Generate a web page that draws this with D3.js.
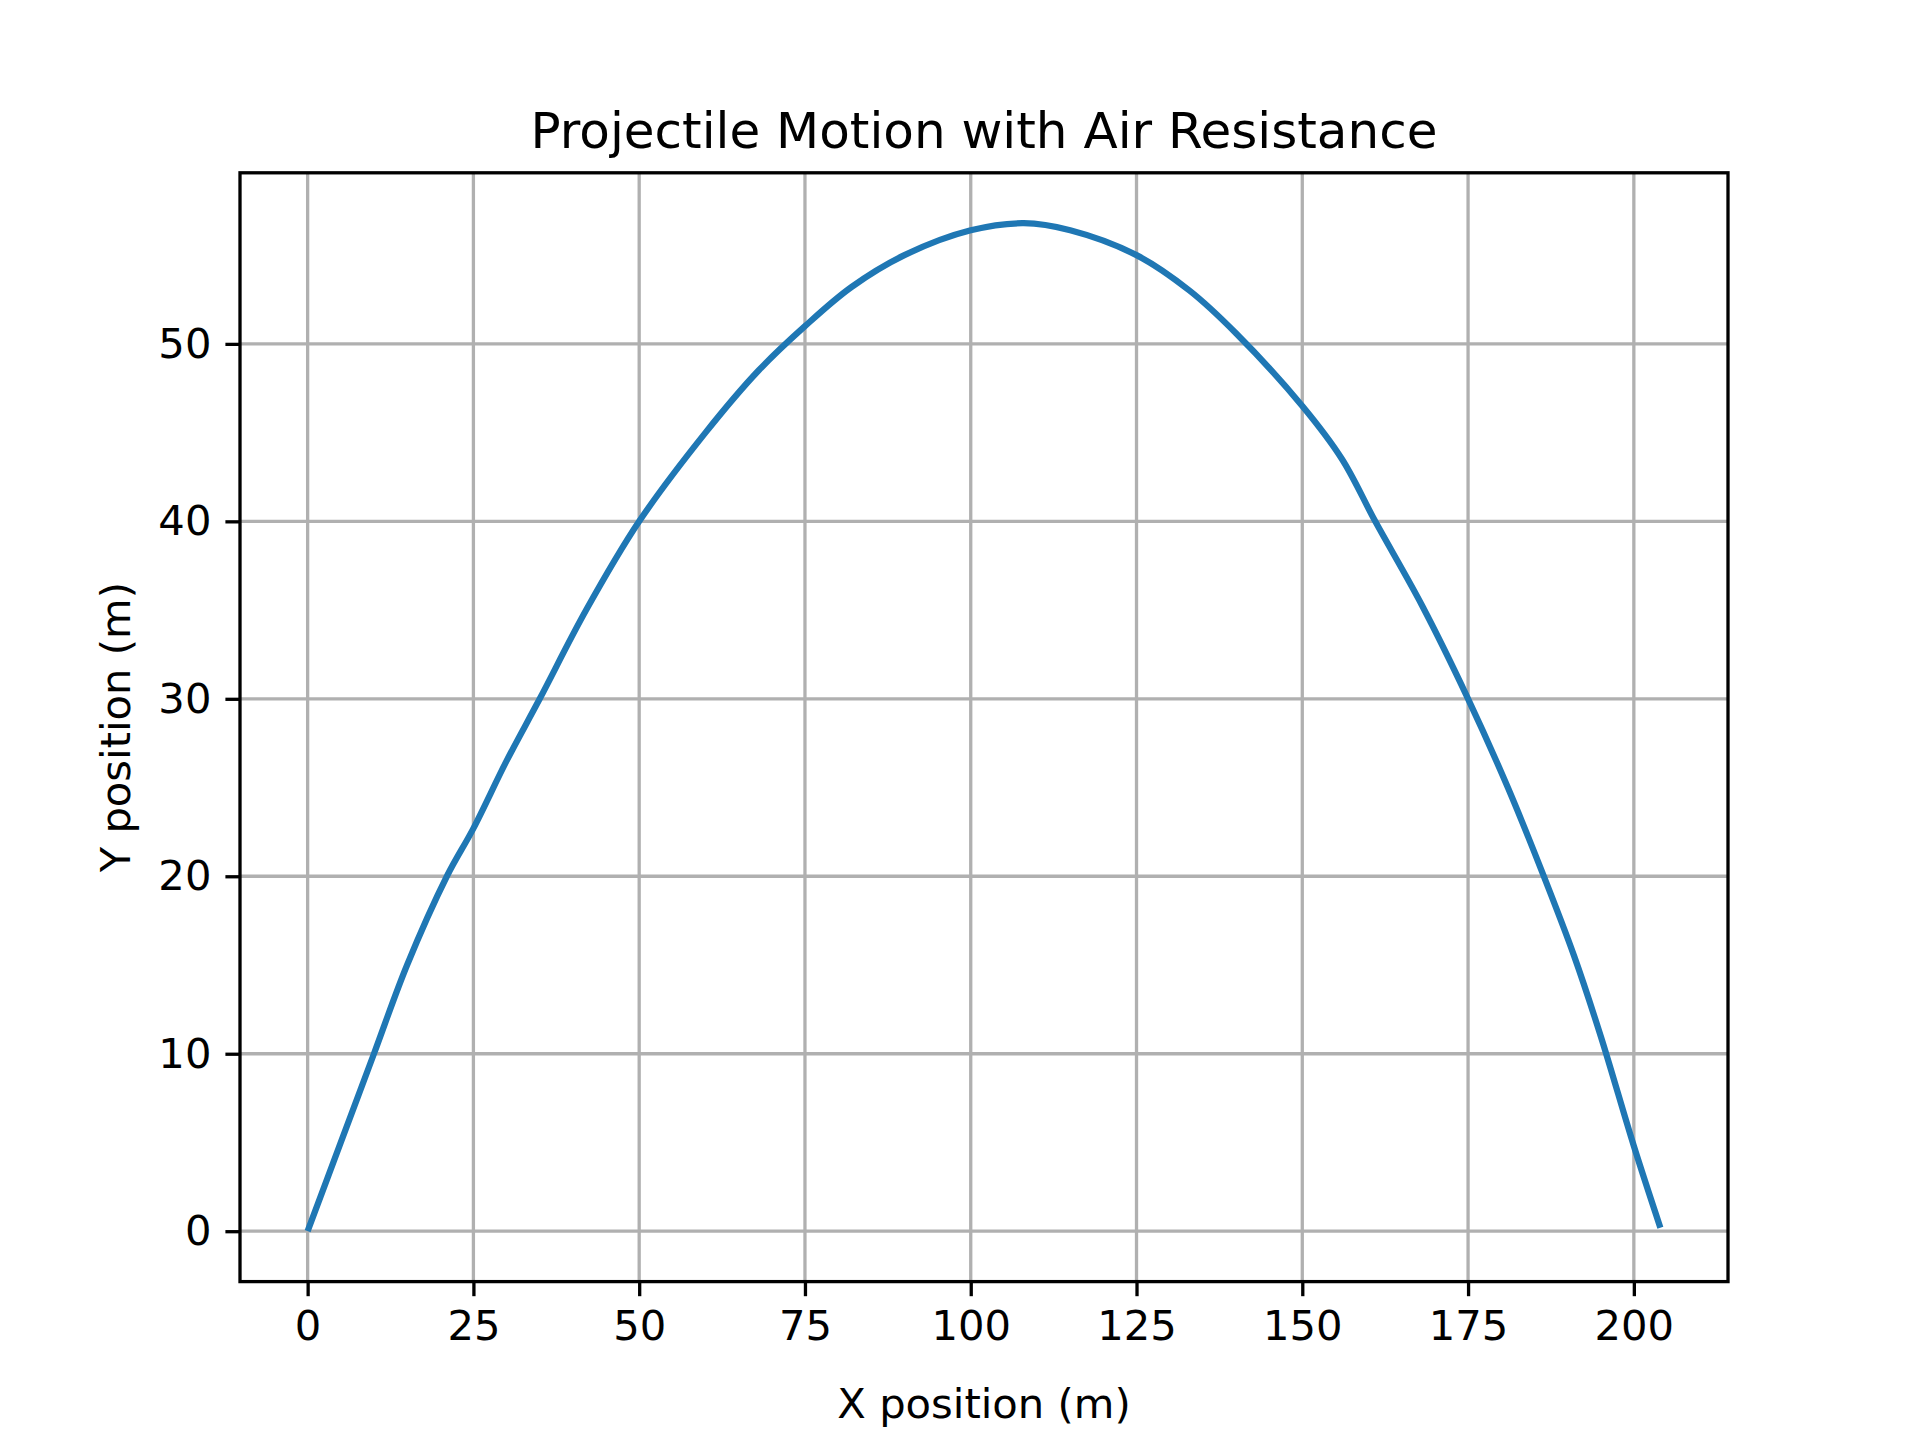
<!DOCTYPE html>
<html>
<head>
<meta charset="utf-8">
<script src="https://cdnjs.cloudflare.com/ajax/libs/d3/7.8.5/d3.min.js"></script>
<style>
body { margin: 0; background: #fff; }
text { font-family: "DejaVu Sans", sans-serif; fill: #000; }
</style>
</head>
<body>
<svg id="chart" width="1920" height="1440"></svg>
<script>
// trajectory
var xPos = [0, 5, 10, 15, 21, 25, 30, 35, 42, 50, 60, 68, 75, 82, 90, 100, 108, 115, 125, 133, 140, 150, 156, 161, 168, 175, 181, 186, 191, 195, 200, 204];
var yPos = [0, 5, 10, 15, 20, 22.7, 26.5, 30, 35, 40, 45, 48.5, 51, 53.2, 55, 56.4, 56.8, 56.4, 55, 53, 50.6, 46.5, 43.5, 40, 35.3, 30, 25, 20.4, 15.5, 11, 4.8, 0.2];
var xTicks = [0, 25, 50, 75, 100, 125, 150, 175, 200];
var yTicks = [0, 10, 20, 30, 40, 50];

var svg = d3.select("#chart");
var L = 240, R = 1728, T = 172.8, B = 1281.6;
var x = d3.scaleLinear().domain([-10.2, 214.2]).range([L, R]);
var y = d3.scaleLinear().domain([-2.84, 59.64]).range([B, T]);

var g = svg.append("g");
// grid
g.selectAll(".gx").data(xTicks).enter().append("line")
    .attr("x1", function (d) { return x(d); }).attr("x2", function (d) { return x(d); })
    .attr("y1", T).attr("y2", B).attr("stroke", "#b0b0b0").attr("stroke-width", 3.3);
g.selectAll(".gy").data(yTicks).enter().append("line")
    .attr("y1", function (d) { return y(d); }).attr("y2", function (d) { return y(d); })
    .attr("x1", L).attr("x2", R).attr("stroke", "#b0b0b0").attr("stroke-width", 3.3);

// curve
var pts = xPos.map(function (d, i) { return [d, yPos[i]]; });
g.append("path").datum(pts)
    .attr("d", d3.line().x(function (d) { return x(d[0]); }).y(function (d) { return y(d[1]); }).curve(d3.curveCatmullRom))
    .attr("fill", "none").attr("stroke", "#1f77b4").attr("stroke-width", 6.25);

// axes
var xa = svg.append("g").attr("transform", "translate(0," + B + ")")
    .call(d3.axisBottom(x).tickValues(xTicks).tickSize(14.6).tickPadding(14));
var ya = svg.append("g").attr("transform", "translate(" + L + ",0)")
    .call(d3.axisLeft(y).tickValues(yTicks).tickSize(14.6).tickPadding(14));
[xa, ya].forEach(function (a) {
    a.select(".domain").remove();
    a.selectAll("line").attr("stroke", "#000").attr("stroke-width", 3.3);
    a.selectAll("text").style("font-size", "41.7px").style("font-family", "DejaVu Sans");
});
svg.append("rect").attr("x", L).attr("y", T).attr("width", R - L).attr("height", B - T)
    .attr("fill", "none").attr("stroke", "#000").attr("stroke-width", 3.3);

svg.append("text").attr("x", (L + R) / 2).attr("y", T - 25).attr("text-anchor", "middle")
    .style("font-size", "50px").text("Projectile Motion with Air Resistance");
svg.append("text").attr("x", (L + R) / 2).attr("y", 1418).attr("text-anchor", "middle")
    .style("font-size", "41.7px").text("X position (m)");
svg.append("text").attr("transform", "translate(130," + (T + B) / 2 + ") rotate(-90)").attr("text-anchor", "middle")
    .style("font-size", "41.7px").text("Y position (m)");
</script>
</body>
</html>
